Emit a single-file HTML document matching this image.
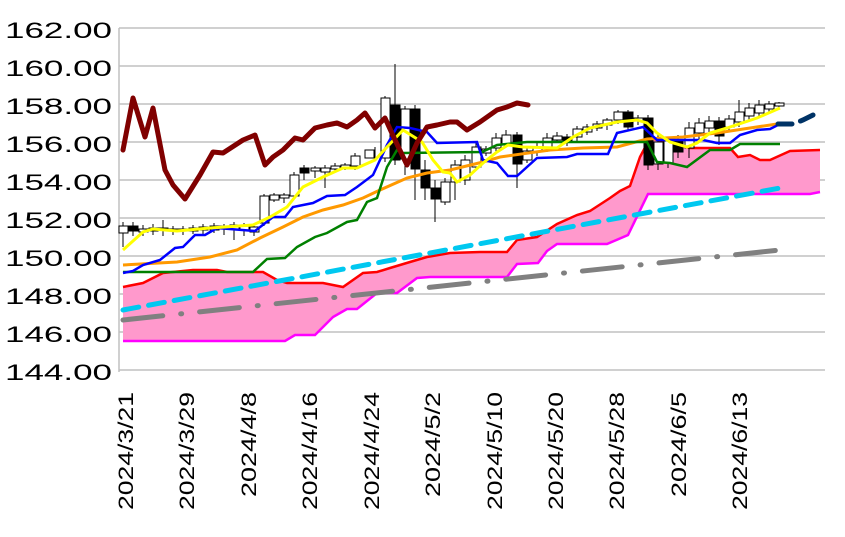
<!DOCTYPE html>
<html><head><meta charset="utf-8"><style>
html,body{margin:0;padding:0;background:#fff;}
svg{display:block;font-family:"Liberation Sans",sans-serif;}
</style></head><body>
<svg width="845" height="537" viewBox="0 0 845 537" xmlns="http://www.w3.org/2000/svg">
<g stroke="#c0c0c0" stroke-width="1.5">
<line x1="119" y1="28" x2="825" y2="28"/><line x1="119" y1="66" x2="825" y2="66"/>
<line x1="119" y1="104" x2="825" y2="104"/><line x1="119" y1="142" x2="825" y2="142"/>
<line x1="119" y1="180" x2="825" y2="180"/><line x1="119" y1="218" x2="825" y2="218"/>
<line x1="119" y1="256" x2="825" y2="256"/><line x1="119" y1="294" x2="825" y2="294"/>
<line x1="119" y1="332" x2="825" y2="332"/><line x1="119" y1="370" x2="825" y2="370"/>
<line x1="119" y1="28" x2="119" y2="372"/>
</g>
<g font-size="22" fill="#000">
<text x="5" y="38" textLength="107" lengthAdjust="spacingAndGlyphs">162.00</text>
<text x="5" y="76" textLength="107" lengthAdjust="spacingAndGlyphs">160.00</text>
<text x="5" y="114" textLength="107" lengthAdjust="spacingAndGlyphs">158.00</text>
<text x="5" y="152" textLength="107" lengthAdjust="spacingAndGlyphs">156.00</text>
<text x="5" y="190" textLength="107" lengthAdjust="spacingAndGlyphs">154.00</text>
<text x="5" y="228" textLength="107" lengthAdjust="spacingAndGlyphs">152.00</text>
<text x="5" y="266" textLength="107" lengthAdjust="spacingAndGlyphs">150.00</text>
<text x="5" y="304" textLength="107" lengthAdjust="spacingAndGlyphs">148.00</text>
<text x="5" y="342" textLength="107" lengthAdjust="spacingAndGlyphs">146.00</text>
<text x="5" y="380" textLength="107" lengthAdjust="spacingAndGlyphs">144.00</text>
</g>
<g font-size="21" fill="#000">
<text transform="translate(133,510) rotate(-90)" textLength="118" lengthAdjust="spacingAndGlyphs">2024/3/21</text>
<text transform="translate(194,510) rotate(-90)" textLength="118" lengthAdjust="spacingAndGlyphs">2024/3/29</text>
<text transform="translate(256,497) rotate(-90)" textLength="105" lengthAdjust="spacingAndGlyphs">2024/4/8</text>
<text transform="translate(317,510) rotate(-90)" textLength="118" lengthAdjust="spacingAndGlyphs">2024/4/16</text>
<text transform="translate(379,510) rotate(-90)" textLength="118" lengthAdjust="spacingAndGlyphs">2024/4/24</text>
<text transform="translate(440,497) rotate(-90)" textLength="105" lengthAdjust="spacingAndGlyphs">2024/5/2</text>
<text transform="translate(502,510) rotate(-90)" textLength="118" lengthAdjust="spacingAndGlyphs">2024/5/10</text>
<text transform="translate(563,510) rotate(-90)" textLength="118" lengthAdjust="spacingAndGlyphs">2024/5/20</text>
<text transform="translate(624,510) rotate(-90)" textLength="118" lengthAdjust="spacingAndGlyphs">2024/5/28</text>
<text transform="translate(686,497) rotate(-90)" textLength="105" lengthAdjust="spacingAndGlyphs">2024/6/5</text>
<text transform="translate(747,510) rotate(-90)" textLength="118" lengthAdjust="spacingAndGlyphs">2024/6/13</text>
</g>
<polygon fill="#ff99cc" points="123,287 143,283 163,273 193,270 217,270 227,272 263,272 277,280 287,283 323,283 343,287 363,273 377,272 390,268 410,262 427,257 450,253 480,252 507,252 517,240 537,237 557,224 577,215 590,211 610,198 620,191 630,186 640,157 650,138 663,141 690,148 730,148 738,157 750,155 760,160 770,160 790,151 820,150 820,192 810,194 648,194 628,235 607,244 557,244 547,251 538,263 517,264 507,277 450,277 430,277 417,278 397,293 377,293 357,309 347,309 333,317 315,335 295,335 285,341 123,341"/>
<polyline fill="none" stroke="#ff0000" stroke-width="2.5" points="123,287 143,283 163,273 193,270 217,270 227,272 263,272 277,280 287,283 323,283 343,287 363,273 377,272 390,268 410,262 427,257 450,253 480,252 507,252 517,240 537,237 557,224 577,215 590,211 610,198 620,191 630,186 640,157 650,138 663,141 690,148 730,148 738,157 750,155 760,160 770,160 790,151 820,150"/>
<polyline fill="none" stroke="#ff00ff" stroke-width="2.5" points="123,341 285,341 295,335 315,335 333,317 347,309 357,309 377,293 397,293 417,278 430,277 507,277 517,264 538,263 547,251 557,244 607,244 628,235 648,194 810,194 820,192"/>
<line x1="123" y1="310" x2="780" y2="188" stroke="#00c8f0" stroke-width="5" stroke-dasharray="16,10" stroke-linecap="round"/>
<line x1="123" y1="320" x2="780" y2="250" stroke="#808080" stroke-width="5" stroke-dasharray="40,18,1,18" stroke-linecap="round"/>
<g stroke="#000" stroke-width="1">
<line x1="123" y1="222" x2="123" y2="247"/><rect x="119" y="226" width="9" height="7" fill="#fff"/>
<line x1="133" y1="222" x2="133" y2="236"/><rect x="129" y="226" width="9" height="5" fill="#000"/>
<line x1="143" y1="225" x2="143" y2="236"/><rect x="139" y="229" width="9" height="3" fill="#fff"/>
<line x1="153" y1="224" x2="153" y2="235"/><rect x="149" y="228" width="9" height="3" fill="#fff"/>
<line x1="163" y1="220" x2="163" y2="236"/><rect x="159" y="228" width="9" height="2" fill="#000"/>
<line x1="173" y1="226" x2="173" y2="235"/><rect x="169" y="229" width="9" height="2" fill="#fff"/>
<line x1="183" y1="226" x2="183" y2="235"/><rect x="179" y="229" width="9" height="2" fill="#fff"/>
<line x1="193" y1="225" x2="193" y2="234"/><rect x="189" y="228" width="9" height="3" fill="#fff"/>
<line x1="203" y1="224" x2="203" y2="234"/><rect x="199" y="227" width="9" height="3" fill="#fff"/>
<line x1="214" y1="223" x2="214" y2="233"/><rect x="210" y="226" width="9" height="4" fill="#fff"/>
<line x1="224" y1="224" x2="224" y2="235"/><rect x="220" y="226" width="9" height="3" fill="#000"/>
<line x1="234" y1="222" x2="234" y2="240"/><rect x="230" y="225" width="9" height="4" fill="#fff"/>
<line x1="244" y1="223" x2="244" y2="236"/><rect x="240" y="226" width="9" height="4" fill="#fff"/>
<line x1="254" y1="224" x2="254" y2="236"/><rect x="250" y="227" width="9" height="5" fill="#fff"/>
<line x1="264" y1="194" x2="264" y2="226"/><rect x="260" y="196" width="9" height="27" fill="#fff"/>
<line x1="274" y1="193" x2="274" y2="202"/><rect x="270" y="195" width="9" height="5" fill="#fff"/>
<line x1="284" y1="193" x2="284" y2="203"/><rect x="280" y="195" width="9" height="3" fill="#fff"/>
<line x1="294" y1="172" x2="294" y2="198"/><rect x="290" y="175" width="9" height="21" fill="#fff"/>
<line x1="304" y1="165" x2="304" y2="180"/><rect x="300" y="168" width="9" height="5" fill="#000"/>
<line x1="315" y1="166" x2="315" y2="178"/><rect x="311" y="168" width="9" height="3" fill="#fff"/>
<line x1="325" y1="165" x2="325" y2="188"/><rect x="321" y="168" width="9" height="4" fill="#fff"/>
<line x1="335" y1="163" x2="335" y2="172"/><rect x="331" y="166" width="9" height="3" fill="#fff"/>
<line x1="345" y1="163" x2="345" y2="170"/><rect x="341" y="165" width="9" height="3" fill="#fff"/>
<line x1="355" y1="153" x2="355" y2="170"/><rect x="351" y="156" width="9" height="10" fill="#fff"/>
<line x1="375" y1="147" x2="375" y2="160"/><rect x="365" y="150" width="9" height="8" fill="#fff"/>
<line x1="385" y1="96" x2="385" y2="162"/><rect x="381" y="98" width="9" height="60" fill="#fff"/>
<line x1="395" y1="64" x2="395" y2="165"/><rect x="391" y="105" width="9" height="55" fill="#000"/>
<line x1="405" y1="106" x2="405" y2="175"/><rect x="401" y="109" width="9" height="50" fill="#fff"/>
<line x1="415" y1="105" x2="415" y2="200"/><rect x="411" y="109" width="9" height="60" fill="#000"/>
<line x1="425" y1="160" x2="425" y2="200"/><rect x="421" y="170" width="9" height="18" fill="#000"/>
<line x1="435" y1="180" x2="435" y2="222"/><rect x="431" y="188" width="9" height="11" fill="#000"/>
<line x1="445" y1="178" x2="445" y2="205"/><rect x="441" y="182" width="9" height="20" fill="#fff"/>
<line x1="455" y1="160" x2="455" y2="200"/><rect x="451" y="165" width="9" height="17" fill="#fff"/>
<line x1="465" y1="155" x2="465" y2="185"/><rect x="461" y="160" width="9" height="20" fill="#fff"/>
<line x1="476" y1="143" x2="476" y2="170"/><rect x="472" y="147" width="9" height="20" fill="#fff"/>
<line x1="486" y1="146" x2="486" y2="156"/><rect x="482" y="149" width="9" height="4" fill="#fff"/>
<line x1="496" y1="133" x2="496" y2="152"/><rect x="492" y="138" width="9" height="10" fill="#fff"/>
<line x1="506" y1="130" x2="506" y2="147"/><rect x="502" y="135" width="9" height="10" fill="#fff"/>
<line x1="517" y1="132" x2="517" y2="188"/><rect x="513" y="135" width="9" height="29" fill="#000"/>
<line x1="527" y1="148" x2="527" y2="163"/><rect x="523" y="151" width="9" height="9" fill="#fff"/>
<line x1="537" y1="143" x2="537" y2="156"/><rect x="533" y="147" width="9" height="5" fill="#fff"/>
<line x1="547" y1="133" x2="547" y2="152"/><rect x="543" y="138" width="9" height="10" fill="#fff"/>
<line x1="557" y1="132" x2="557" y2="143"/><rect x="553" y="136" width="9" height="4" fill="#fff"/>
<line x1="567" y1="134" x2="567" y2="146"/><rect x="563" y="137" width="9" height="4" fill="#000"/>
<line x1="577" y1="126" x2="577" y2="141"/><rect x="573" y="129" width="9" height="8" fill="#fff"/>
<line x1="587" y1="124" x2="587" y2="135"/><rect x="583" y="127" width="9" height="5" fill="#fff"/>
<line x1="597" y1="121" x2="597" y2="131"/><rect x="593" y="124" width="9" height="4" fill="#fff"/>
<line x1="607" y1="118" x2="607" y2="130"/><rect x="603" y="120" width="9" height="5" fill="#fff"/>
<line x1="618" y1="110" x2="618" y2="124"/><rect x="614" y="112" width="9" height="8" fill="#fff"/>
<line x1="628" y1="110" x2="628" y2="130"/><rect x="624" y="112" width="9" height="15" fill="#000"/>
<line x1="638" y1="115" x2="638" y2="125"/><rect x="634" y="118" width="9" height="3" fill="#fff"/>
<line x1="648" y1="115" x2="648" y2="170"/><rect x="644" y="118" width="9" height="47" fill="#000"/>
<line x1="658" y1="135" x2="658" y2="170"/><rect x="654" y="142" width="9" height="22" fill="#fff"/>
<line x1="668" y1="138" x2="668" y2="168"/><rect x="664" y="141" width="9" height="22" fill="#fff"/>
<line x1="678" y1="135" x2="678" y2="158"/><rect x="674" y="140" width="9" height="12" fill="#000"/>
<line x1="689" y1="122" x2="689" y2="158"/><rect x="685" y="128" width="9" height="20" fill="#fff"/>
<line x1="699" y1="118" x2="699" y2="140"/><rect x="695" y="123" width="9" height="10" fill="#fff"/>
<line x1="709" y1="116" x2="709" y2="132"/><rect x="705" y="121" width="9" height="7" fill="#fff"/>
<line x1="719" y1="117" x2="719" y2="145"/><rect x="715" y="121" width="9" height="15" fill="#000"/>
<line x1="729" y1="115" x2="729" y2="132"/><rect x="725" y="119" width="9" height="8" fill="#fff"/>
<line x1="739" y1="100" x2="739" y2="127"/><rect x="735" y="112" width="9" height="10" fill="#fff"/>
<line x1="749" y1="103" x2="749" y2="122"/><rect x="745" y="108" width="9" height="8" fill="#fff"/>
<line x1="759" y1="100" x2="759" y2="117"/><rect x="755" y="105" width="9" height="8" fill="#fff"/>
<line x1="769" y1="101" x2="769" y2="112"/><rect x="765" y="104" width="9" height="5" fill="#fff"/>
<line x1="779" y1="102" x2="779" y2="110"/><rect x="775" y="103" width="9" height="3" fill="#fff"/>
</g>
<polyline fill="none" stroke="#ff9900" stroke-width="3" points="123,265 177,262 210,257 237,250 260,238 283,227 303,217 323,210 343,205 363,198 380,190 407,178 427,173 450,170 483,162 500,157 550,150 583,148 617,147 647,139 683,137 717,133 750,128 777,124"/>
<polyline fill="none" stroke="#008000" stroke-width="2.5" points="123,272 253,272 267,259 285,258 297,247 315,237 327,233 347,222 357,220 367,202 377,198 387,167 397,150 403,153 482,152 497,145 527,142 647,142 657,162 670,163 687,167 710,150 730,150 740,144 780,144"/>
<polyline fill="none" stroke="#0000ff" stroke-width="2.5" points="123,273 133,271 143,265 160,260 175,248 183,247 195,235 205,235 217,228 255,231 273,217 285,217 293,207 313,203 327,196 345,195 357,187 373,175 387,145 397,127 410,128 427,132 437,143 477,142 483,160 497,163 508,176 517,176 537,158 567,157 577,154 608,154 617,133 643,127 657,140 703,140 717,143 730,143 740,135 757,130 770,129 778,125"/>
<polyline fill="none" stroke="#ffff00" stroke-width="3" points="123,250 143,232 153,229 177,231 210,228 253,225 270,217 287,207 303,187 323,177 343,168 357,168 375,160 387,147 403,130 422,142 433,160 443,172 450,173 457,182 470,175 483,163 497,152 508,145 523,147 557,148 573,137 590,128 617,122 637,120 647,123 657,133 670,142 687,147 697,143 710,133 727,128 757,118 780,108"/>
<polyline fill="none" stroke="#003366" stroke-width="5" stroke-dasharray="14,9" stroke-linecap="round" points="778,124 793,124 803,120 815,114"/>
<polyline fill="none" stroke="#800000" stroke-width="5" stroke-linejoin="round" stroke-linecap="round" points="123,150 133,98 145,137 153,108 165,170 173,185 185,199 200,175 213,152 223,153 243,140 255,135 265,165 273,157 283,150 295,138 303,140 315,128 327,125 337,123 347,127 357,120 365,113 375,128 385,118 395,140 407,165 417,143 427,127 437,125 450,122 457,122 467,130 480,122 497,110 507,107 517,103 528,105"/>
</svg>
</body></html>
